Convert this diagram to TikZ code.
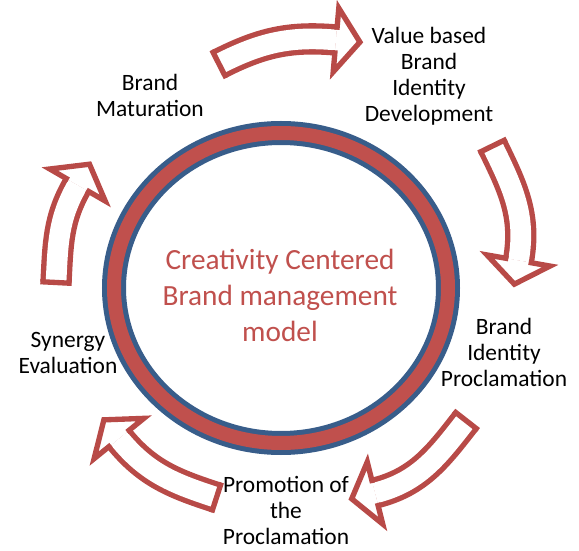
\documentclass[tikz,border=0pt]{standalone}
\usepackage{fontspec}
\setmainfont{Carlito}
\usetikzlibrary{calc}

\definecolor{ringblue}{HTML}{385D8A}
\definecolor{ringred}{HTML}{C0504D}
\definecolor{arrowred}{HTML}{B84A47}

% curved block arrow: tail point, angle leaving the tail, base of the head, heading of the head
\newcommand{\cycarrow}[4]{%
  \pgfmathsetmacro\arrin{#4+180}
  \draw[arrow body] (#1) to[out=#2, in=\arrin] (#3);
  \draw[arrow edge, line cap=rect] ($(#1)+(#2+90:13)$) -- ($(#1)+(#2-90:13)$);
  \filldraw[arrow edge, line cap=rect, fill=white] ($(#3)+(#4+90:13)$) -- ($(#3)+(#4+90:32)$)
    -- ($(#3)+(#4:24)$) -- ($(#3)+(#4-90:32)$) -- ($(#3)+(#4-90:13)$);
}

\begin{document}
\begin{tikzpicture}[x=0.03cm, y=0.03cm]
  \tikzset{
      stage/.style = {
          align = center,
          font = \fontsize{20}{22.2}\selectfont
      },
      arrow body/.style = {
          draw = arrowred,
          line width = 0.16cm,
          double = white,
          double distance = 0.62cm
      },
      arrow edge/.style = {
          draw = arrowred,
          line width = 0.16cm,
          line join = miter
      }
  }
  \useasboundingbox (0,0) rectangle (579,550);

  % the ring
  \draw[ringblue, line width=0.72cm] (281,262) ellipse [x radius=167, y radius=155];
  \draw[ringred, line width=0.42cm] (281,262) ellipse [x radius=167, y radius=155];
  \node[align=center, text=ringred, font=\fontsize{25}{30.7}\selectfont] (model) at (280,255)
      {Creativity Centered\\Brand management\\model};

  % the stages
  \node[stage] (mature) at (150,455) {Brand\\Maturation};
  \node[stage] (value) at (429,474) {Value based\\Brand\\Identity\\Development};
  \node[stage] (proclaim) at (504,198) {Brand\\Identity\\Proclamation};
  \node[stage] (promote) at (286,40) {Promotion of\\the\\Proclamation};
  \node[stage] (synergy) at (68,197) {Synergy\\Evaluation};

  % arrows between the stages
  \cycarrow{219,486}{27}{336,510}{-5}
  \cycarrow{492.5,404}{-64}{518.5,289.5}{-100}
  \cycarrow{466,129.5}{232}{375,57}{194}
  \cycarrow{216.5,52.5}{162}{119,111.5}{129}
  \cycarrow{56,267.5}{87}{77.5,365}{60}

\end{tikzpicture}
\end{document}
